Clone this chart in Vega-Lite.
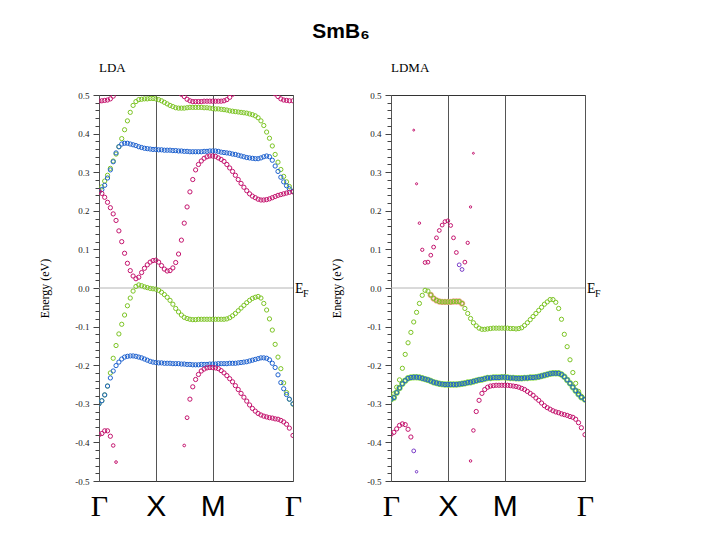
{
"$schema":"https://vega.github.io/schema/vega-lite/v6.json",
"background":"white",
"padding":{"left":38,"top":20,"right":0,"bottom":0},
"title":{"text":"SmB₆","font":"Liberation Sans","fontSize":21,"fontWeight":"bold","anchor":"middle","frame":"group","dx":242,"offset":20,"color":"#000"},
"config":{"view":{"stroke":"#333","strokeWidth":1},"font":"Liberation Serif","axis":{"labelOverlap":false}},
"bounds":"flush",
"spacing":98,
"datasets":{"pts":[
{"p":"LDA","c":"g","k":0,"e":0.25,"w":1},{"p":"LDA","c":"g","k":0.025,"e":0.262,"w":1},{"p":"LDA","c":"g","k":0.05,"e":0.277,"w":1},{"p":"LDA","c":"g","k":0.075,"e":0.292,"w":1},{"p":"LDA","c":"g","k":0.1,"e":0.31,"w":1},{"p":"LDA","c":"g","k":0.125,"e":0.329,"w":1},{"p":"LDA","c":"g","k":0.15,"e":0.347,"w":1},{"p":"LDA","c":"g","k":0.175,"e":0.366,"w":1},{"p":"LDA","c":"g","k":0.2,"e":0.387,"w":1},{"p":"LDA","c":"g","k":0.225,"e":0.41,"w":1},{"p":"LDA","c":"g","k":0.25,"e":0.433,"w":1},{"p":"LDA","c":"g","k":0.275,"e":0.455,"w":1},{"p":"LDA","c":"g","k":0.3,"e":0.473,"w":1},{"p":"LDA","c":"g","k":0.325,"e":0.483,"w":1},{"p":"LDA","c":"g","k":0.35,"e":0.488,"w":1},{"p":"LDA","c":"g","k":0.375,"e":0.489,"w":1},{"p":"LDA","c":"g","k":0.4,"e":0.49,"w":1},{"p":"LDA","c":"g","k":0.425,"e":0.49,"w":1},{"p":"LDA","c":"g","k":0.45,"e":0.491,"w":1},{"p":"LDA","c":"g","k":0.475,"e":0.491,"w":1},{"p":"LDA","c":"g","k":0.5,"e":0.49,"w":1},{"p":"LDA","c":"g","k":0.525,"e":0.488,"w":1},{"p":"LDA","c":"g","k":0.55,"e":0.485,"w":1},{"p":"LDA","c":"g","k":0.575,"e":0.481,"w":1},{"p":"LDA","c":"g","k":0.6,"e":0.477,"w":1},{"p":"LDA","c":"g","k":0.625,"e":0.473,"w":1},{"p":"LDA","c":"g","k":0.65,"e":0.47,"w":1},{"p":"LDA","c":"g","k":0.675,"e":0.467,"w":1},{"p":"LDA","c":"g","k":0.7,"e":0.466,"w":1},{"p":"LDA","c":"g","k":0.725,"e":0.466,"w":1},{"p":"LDA","c":"g","k":0.75,"e":0.466,"w":1},{"p":"LDA","c":"g","k":0.775,"e":0.467,"w":1},{"p":"LDA","c":"g","k":0.8,"e":0.468,"w":1},{"p":"LDA","c":"g","k":0.825,"e":0.468,"w":1},{"p":"LDA","c":"g","k":0.85,"e":0.468,"w":1},{"p":"LDA","c":"g","k":0.875,"e":0.468,"w":1},{"p":"LDA","c":"g","k":0.9,"e":0.468,"w":1},{"p":"LDA","c":"g","k":0.925,"e":0.467,"w":1},{"p":"LDA","c":"g","k":0.95,"e":0.467,"w":1},{"p":"LDA","c":"g","k":0.975,"e":0.466,"w":1},{"p":"LDA","c":"g","k":1.0,"e":0.465,"w":1},{"p":"LDA","c":"g","k":1.025,"e":0.464,"w":1},{"p":"LDA","c":"g","k":1.05,"e":0.464,"w":1},{"p":"LDA","c":"g","k":1.075,"e":0.463,"w":1},{"p":"LDA","c":"g","k":1.1,"e":0.462,"w":1},{"p":"LDA","c":"g","k":1.125,"e":0.461,"w":1},{"p":"LDA","c":"g","k":1.15,"e":0.459,"w":1},{"p":"LDA","c":"g","k":1.175,"e":0.458,"w":1},{"p":"LDA","c":"g","k":1.2,"e":0.457,"w":1},{"p":"LDA","c":"g","k":1.225,"e":0.456,"w":1},{"p":"LDA","c":"g","k":1.25,"e":0.455,"w":1},{"p":"LDA","c":"g","k":1.275,"e":0.454,"w":1},{"p":"LDA","c":"g","k":1.3,"e":0.453,"w":1},{"p":"LDA","c":"g","k":1.325,"e":0.451,"w":1},{"p":"LDA","c":"g","k":1.35,"e":0.449,"w":1},{"p":"LDA","c":"g","k":1.375,"e":0.446,"w":1},{"p":"LDA","c":"g","k":1.4,"e":0.441,"w":1},{"p":"LDA","c":"g","k":1.425,"e":0.433,"w":1},{"p":"LDA","c":"g","k":1.45,"e":0.421,"w":1},{"p":"LDA","c":"g","k":1.475,"e":0.404,"w":1},{"p":"LDA","c":"g","k":1.5,"e":0.388,"w":1},{"p":"LDA","c":"g","k":1.525,"e":0.368,"w":1},{"p":"LDA","c":"g","k":1.55,"e":0.346,"w":1},{"p":"LDA","c":"g","k":1.575,"e":0.326,"w":1},{"p":"LDA","c":"g","k":1.6,"e":0.307,"w":1},{"p":"LDA","c":"g","k":1.625,"e":0.289,"w":1},{"p":"LDA","c":"g","k":1.65,"e":0.275,"w":1},{"p":"LDA","c":"g","k":1.675,"e":0.263,"w":1},{"p":"LDA","c":"g","k":1.707,"e":0.251,"w":1},
{"p":"LDA","c":"b","k":0,"e":0.25,"w":1},{"p":"LDA","c":"b","k":0.025,"e":0.255,"w":1},{"p":"LDA","c":"b","k":0.05,"e":0.266,"w":1},{"p":"LDA","c":"b","k":0.075,"e":0.285,"w":1},{"p":"LDA","c":"b","k":0.1,"e":0.306,"w":1},{"p":"LDA","c":"b","k":0.125,"e":0.327,"w":1},{"p":"LDA","c":"b","k":0.15,"e":0.35,"w":1},{"p":"LDA","c":"b","k":0.175,"e":0.366,"w":1},{"p":"LDA","c":"b","k":0.2,"e":0.373,"w":1},{"p":"LDA","c":"b","k":0.225,"e":0.375,"w":1},{"p":"LDA","c":"b","k":0.25,"e":0.375,"w":1},{"p":"LDA","c":"b","k":0.275,"e":0.373,"w":1},{"p":"LDA","c":"b","k":0.3,"e":0.371,"w":1},{"p":"LDA","c":"b","k":0.325,"e":0.369,"w":1},{"p":"LDA","c":"b","k":0.35,"e":0.366,"w":1},{"p":"LDA","c":"b","k":0.375,"e":0.364,"w":1},{"p":"LDA","c":"b","k":0.4,"e":0.362,"w":1},{"p":"LDA","c":"b","k":0.425,"e":0.361,"w":1},{"p":"LDA","c":"b","k":0.45,"e":0.36,"w":1},{"p":"LDA","c":"b","k":0.475,"e":0.359,"w":1},{"p":"LDA","c":"b","k":0.5,"e":0.359,"w":1},{"p":"LDA","c":"b","k":0.525,"e":0.358,"w":1},{"p":"LDA","c":"b","k":0.55,"e":0.358,"w":1},{"p":"LDA","c":"b","k":0.575,"e":0.357,"w":1},{"p":"LDA","c":"b","k":0.6,"e":0.357,"w":1},{"p":"LDA","c":"b","k":0.625,"e":0.357,"w":1},{"p":"LDA","c":"b","k":0.65,"e":0.356,"w":1},{"p":"LDA","c":"b","k":0.675,"e":0.356,"w":1},{"p":"LDA","c":"b","k":0.7,"e":0.355,"w":1},{"p":"LDA","c":"b","k":0.725,"e":0.355,"w":1},{"p":"LDA","c":"b","k":0.75,"e":0.354,"w":1},{"p":"LDA","c":"b","k":0.775,"e":0.354,"w":1},{"p":"LDA","c":"b","k":0.8,"e":0.353,"w":1},{"p":"LDA","c":"b","k":0.825,"e":0.353,"w":1},{"p":"LDA","c":"b","k":0.85,"e":0.353,"w":1},{"p":"LDA","c":"b","k":0.875,"e":0.353,"w":1},{"p":"LDA","c":"b","k":0.9,"e":0.353,"w":1},{"p":"LDA","c":"b","k":0.925,"e":0.354,"w":1},{"p":"LDA","c":"b","k":0.95,"e":0.354,"w":1},{"p":"LDA","c":"b","k":0.975,"e":0.355,"w":1},{"p":"LDA","c":"b","k":1.0,"e":0.355,"w":1},{"p":"LDA","c":"b","k":1.025,"e":0.355,"w":1},{"p":"LDA","c":"b","k":1.05,"e":0.354,"w":1},{"p":"LDA","c":"b","k":1.075,"e":0.352,"w":1},{"p":"LDA","c":"b","k":1.1,"e":0.351,"w":1},{"p":"LDA","c":"b","k":1.125,"e":0.35,"w":1},{"p":"LDA","c":"b","k":1.15,"e":0.349,"w":1},{"p":"LDA","c":"b","k":1.175,"e":0.347,"w":1},{"p":"LDA","c":"b","k":1.2,"e":0.346,"w":1},{"p":"LDA","c":"b","k":1.225,"e":0.344,"w":1},{"p":"LDA","c":"b","k":1.25,"e":0.342,"w":1},{"p":"LDA","c":"b","k":1.275,"e":0.34,"w":1},{"p":"LDA","c":"b","k":1.3,"e":0.338,"w":1},{"p":"LDA","c":"b","k":1.325,"e":0.337,"w":1},{"p":"LDA","c":"b","k":1.35,"e":0.336,"w":1},{"p":"LDA","c":"b","k":1.375,"e":0.335,"w":1},{"p":"LDA","c":"b","k":1.4,"e":0.335,"w":1},{"p":"LDA","c":"b","k":1.425,"e":0.337,"w":1},{"p":"LDA","c":"b","k":1.45,"e":0.34,"w":1},{"p":"LDA","c":"b","k":1.475,"e":0.342,"w":1},{"p":"LDA","c":"b","k":1.5,"e":0.34,"w":1},{"p":"LDA","c":"b","k":1.525,"e":0.331,"w":1},{"p":"LDA","c":"b","k":1.55,"e":0.316,"w":1},{"p":"LDA","c":"b","k":1.575,"e":0.302,"w":1},{"p":"LDA","c":"b","k":1.6,"e":0.287,"w":1},{"p":"LDA","c":"b","k":1.625,"e":0.275,"w":1},{"p":"LDA","c":"b","k":1.65,"e":0.265,"w":1},{"p":"LDA","c":"b","k":1.675,"e":0.257,"w":1},{"p":"LDA","c":"b","k":1.707,"e":0.25,"w":1},
{"p":"LDA","c":"r","k":0,"e":0.25,"w":1},{"p":"LDA","c":"r","k":0.025,"e":0.245,"w":1},{"p":"LDA","c":"r","k":0.05,"e":0.235,"w":1},{"p":"LDA","c":"r","k":0.075,"e":0.222,"w":1},{"p":"LDA","c":"r","k":0.1,"e":0.208,"w":1},{"p":"LDA","c":"r","k":0.125,"e":0.192,"w":1},{"p":"LDA","c":"r","k":0.15,"e":0.175,"w":1},{"p":"LDA","c":"r","k":0.175,"e":0.148,"w":1},{"p":"LDA","c":"r","k":0.2,"e":0.12,"w":1},{"p":"LDA","c":"r","k":0.225,"e":0.09,"w":1},{"p":"LDA","c":"r","k":0.25,"e":0.064,"w":1},{"p":"LDA","c":"r","k":0.275,"e":0.045,"w":1},{"p":"LDA","c":"r","k":0.3,"e":0.031,"w":1},{"p":"LDA","c":"r","k":0.325,"e":0.024,"w":1},{"p":"LDA","c":"r","k":0.35,"e":0.028,"w":1},{"p":"LDA","c":"r","k":0.375,"e":0.04,"w":1},{"p":"LDA","c":"r","k":0.4,"e":0.051,"w":1},{"p":"LDA","c":"r","k":0.425,"e":0.06,"w":1},{"p":"LDA","c":"r","k":0.45,"e":0.067,"w":1},{"p":"LDA","c":"r","k":0.475,"e":0.071,"w":1},{"p":"LDA","c":"r","k":0.5,"e":0.072,"w":1},{"p":"LDA","c":"r","k":0.525,"e":0.067,"w":1},{"p":"LDA","c":"r","k":0.55,"e":0.058,"w":1},{"p":"LDA","c":"r","k":0.575,"e":0.049,"w":1},{"p":"LDA","c":"r","k":0.6,"e":0.044,"w":1},{"p":"LDA","c":"r","k":0.625,"e":0.045,"w":1},{"p":"LDA","c":"r","k":0.65,"e":0.052,"w":1},{"p":"LDA","c":"r","k":0.675,"e":0.066,"w":1},{"p":"LDA","c":"r","k":0.7,"e":0.088,"w":1},{"p":"LDA","c":"r","k":0.725,"e":0.124,"w":1},{"p":"LDA","c":"r","k":0.75,"e":0.168,"w":1},{"p":"LDA","c":"r","k":0.775,"e":0.21,"w":1},{"p":"LDA","c":"r","k":0.8,"e":0.249,"w":1},{"p":"LDA","c":"r","k":0.825,"e":0.281,"w":1},{"p":"LDA","c":"r","k":0.85,"e":0.306,"w":1},{"p":"LDA","c":"r","k":0.875,"e":0.32,"w":1},{"p":"LDA","c":"r","k":0.9,"e":0.329,"w":1},{"p":"LDA","c":"r","k":0.925,"e":0.336,"w":1},{"p":"LDA","c":"r","k":0.95,"e":0.34,"w":1},{"p":"LDA","c":"r","k":0.975,"e":0.342,"w":1},{"p":"LDA","c":"r","k":1.0,"e":0.342,"w":1},{"p":"LDA","c":"r","k":1.025,"e":0.341,"w":1},{"p":"LDA","c":"r","k":1.05,"e":0.337,"w":1},{"p":"LDA","c":"r","k":1.075,"e":0.333,"w":1},{"p":"LDA","c":"r","k":1.1,"e":0.328,"w":1},{"p":"LDA","c":"r","k":1.125,"e":0.32,"w":1},{"p":"LDA","c":"r","k":1.15,"e":0.311,"w":1},{"p":"LDA","c":"r","k":1.175,"e":0.302,"w":1},{"p":"LDA","c":"r","k":1.2,"e":0.292,"w":1},{"p":"LDA","c":"r","k":1.225,"e":0.281,"w":1},{"p":"LDA","c":"r","k":1.25,"e":0.271,"w":1},{"p":"LDA","c":"r","k":1.275,"e":0.261,"w":1},{"p":"LDA","c":"r","k":1.3,"e":0.252,"w":1},{"p":"LDA","c":"r","k":1.325,"e":0.244,"w":1},{"p":"LDA","c":"r","k":1.35,"e":0.238,"w":1},{"p":"LDA","c":"r","k":1.375,"e":0.234,"w":1},{"p":"LDA","c":"r","k":1.4,"e":0.23,"w":1},{"p":"LDA","c":"r","k":1.425,"e":0.228,"w":1},{"p":"LDA","c":"r","k":1.45,"e":0.228,"w":1},{"p":"LDA","c":"r","k":1.475,"e":0.229,"w":1},{"p":"LDA","c":"r","k":1.5,"e":0.231,"w":1},{"p":"LDA","c":"r","k":1.525,"e":0.234,"w":1},{"p":"LDA","c":"r","k":1.55,"e":0.237,"w":1},{"p":"LDA","c":"r","k":1.575,"e":0.24,"w":1},{"p":"LDA","c":"r","k":1.6,"e":0.242,"w":1},{"p":"LDA","c":"r","k":1.625,"e":0.244,"w":1},{"p":"LDA","c":"r","k":1.65,"e":0.246,"w":1},{"p":"LDA","c":"r","k":1.675,"e":0.248,"w":1},{"p":"LDA","c":"r","k":1.707,"e":0.249,"w":1},
{"p":"LDA","c":"r","k":0,"e":0.484,"w":1},{"p":"LDA","c":"r","k":0.025,"e":0.485,"w":1},{"p":"LDA","c":"r","k":0.05,"e":0.486,"w":1},{"p":"LDA","c":"r","k":0.075,"e":0.487,"w":1},{"p":"LDA","c":"r","k":0.1,"e":0.49,"w":1},{"p":"LDA","c":"r","k":0.125,"e":0.497,"w":1},{"p":"LDA","c":"r","k":0.725,"e":0.502,"w":1},{"p":"LDA","c":"r","k":0.75,"e":0.496,"w":1},{"p":"LDA","c":"r","k":0.775,"e":0.489,"w":1},{"p":"LDA","c":"r","k":0.8,"e":0.485,"w":1},{"p":"LDA","c":"r","k":0.825,"e":0.483,"w":1},{"p":"LDA","c":"r","k":0.85,"e":0.483,"w":1},{"p":"LDA","c":"r","k":0.875,"e":0.483,"w":1},{"p":"LDA","c":"r","k":0.9,"e":0.483,"w":1},{"p":"LDA","c":"r","k":0.925,"e":0.484,"w":1},{"p":"LDA","c":"r","k":0.95,"e":0.484,"w":1},{"p":"LDA","c":"r","k":0.975,"e":0.484,"w":1},{"p":"LDA","c":"r","k":1.0,"e":0.484,"w":1},{"p":"LDA","c":"r","k":1.025,"e":0.484,"w":1},{"p":"LDA","c":"r","k":1.05,"e":0.484,"w":1},{"p":"LDA","c":"r","k":1.075,"e":0.484,"w":1},{"p":"LDA","c":"r","k":1.1,"e":0.485,"w":1},{"p":"LDA","c":"r","k":1.125,"e":0.488,"w":1},{"p":"LDA","c":"r","k":1.15,"e":0.494,"w":1},{"p":"LDA","c":"r","k":1.175,"e":0.502,"w":1},{"p":"LDA","c":"r","k":1.55,"e":0.503,"w":1},{"p":"LDA","c":"r","k":1.575,"e":0.496,"w":1},{"p":"LDA","c":"r","k":1.6,"e":0.49,"w":1},{"p":"LDA","c":"r","k":1.625,"e":0.487,"w":1},{"p":"LDA","c":"r","k":1.65,"e":0.486,"w":1},{"p":"LDA","c":"r","k":1.675,"e":0.485,"w":1},{"p":"LDA","c":"r","k":1.707,"e":0.485,"w":1},
{"p":"LDA","c":"g","k":0,"e":-0.3,"w":1},{"p":"LDA","c":"g","k":0.025,"e":-0.292,"w":1},{"p":"LDA","c":"g","k":0.05,"e":-0.277,"w":1},{"p":"LDA","c":"g","k":0.075,"e":-0.254,"w":1},{"p":"LDA","c":"g","k":0.1,"e":-0.22,"w":1},{"p":"LDA","c":"g","k":0.125,"e":-0.182,"w":1},{"p":"LDA","c":"g","k":0.15,"e":-0.149,"w":1},{"p":"LDA","c":"g","k":0.175,"e":-0.119,"w":1},{"p":"LDA","c":"g","k":0.2,"e":-0.094,"w":1},{"p":"LDA","c":"g","k":0.225,"e":-0.07,"w":1},{"p":"LDA","c":"g","k":0.25,"e":-0.046,"w":1},{"p":"LDA","c":"g","k":0.275,"e":-0.026,"w":1},{"p":"LDA","c":"g","k":0.3,"e":-0.008,"w":1},{"p":"LDA","c":"g","k":0.325,"e":0.004,"w":1},{"p":"LDA","c":"g","k":0.35,"e":0.008,"w":1},{"p":"LDA","c":"g","k":0.375,"e":0.006,"w":1},{"p":"LDA","c":"g","k":0.4,"e":0.003,"w":1},{"p":"LDA","c":"g","k":0.425,"e":0.001,"w":1},{"p":"LDA","c":"g","k":0.45,"e":-0.001,"w":1},{"p":"LDA","c":"g","k":0.475,"e":-0.002,"w":1},{"p":"LDA","c":"g","k":0.5,"e":-0.003,"w":1},{"p":"LDA","c":"g","k":0.525,"e":-0.006,"w":1},{"p":"LDA","c":"g","k":0.55,"e":-0.011,"w":1},{"p":"LDA","c":"g","k":0.575,"e":-0.017,"w":1},{"p":"LDA","c":"g","k":0.6,"e":-0.024,"w":1},{"p":"LDA","c":"g","k":0.625,"e":-0.032,"w":1},{"p":"LDA","c":"g","k":0.65,"e":-0.042,"w":1},{"p":"LDA","c":"g","k":0.675,"e":-0.053,"w":1},{"p":"LDA","c":"g","k":0.7,"e":-0.062,"w":1},{"p":"LDA","c":"g","k":0.725,"e":-0.07,"w":1},{"p":"LDA","c":"g","k":0.75,"e":-0.076,"w":1},{"p":"LDA","c":"g","k":0.775,"e":-0.079,"w":1},{"p":"LDA","c":"g","k":0.8,"e":-0.081,"w":1},{"p":"LDA","c":"g","k":0.825,"e":-0.082,"w":1},{"p":"LDA","c":"g","k":0.85,"e":-0.082,"w":1},{"p":"LDA","c":"g","k":0.875,"e":-0.081,"w":1},{"p":"LDA","c":"g","k":0.9,"e":-0.081,"w":1},{"p":"LDA","c":"g","k":0.925,"e":-0.081,"w":1},{"p":"LDA","c":"g","k":0.95,"e":-0.081,"w":1},{"p":"LDA","c":"g","k":0.975,"e":-0.081,"w":1},{"p":"LDA","c":"g","k":1.0,"e":-0.081,"w":1},{"p":"LDA","c":"g","k":1.025,"e":-0.081,"w":1},{"p":"LDA","c":"g","k":1.05,"e":-0.081,"w":1},{"p":"LDA","c":"g","k":1.075,"e":-0.081,"w":1},{"p":"LDA","c":"g","k":1.1,"e":-0.081,"w":1},{"p":"LDA","c":"g","k":1.125,"e":-0.08,"w":1},{"p":"LDA","c":"g","k":1.15,"e":-0.077,"w":1},{"p":"LDA","c":"g","k":1.175,"e":-0.072,"w":1},{"p":"LDA","c":"g","k":1.2,"e":-0.066,"w":1},{"p":"LDA","c":"g","k":1.225,"e":-0.059,"w":1},{"p":"LDA","c":"g","k":1.25,"e":-0.052,"w":1},{"p":"LDA","c":"g","k":1.275,"e":-0.045,"w":1},{"p":"LDA","c":"g","k":1.3,"e":-0.038,"w":1},{"p":"LDA","c":"g","k":1.325,"e":-0.032,"w":1},{"p":"LDA","c":"g","k":1.35,"e":-0.027,"w":1},{"p":"LDA","c":"g","k":1.375,"e":-0.024,"w":1},{"p":"LDA","c":"g","k":1.4,"e":-0.022,"w":1},{"p":"LDA","c":"g","k":1.425,"e":-0.026,"w":1},{"p":"LDA","c":"g","k":1.45,"e":-0.04,"w":1},{"p":"LDA","c":"g","k":1.475,"e":-0.057,"w":1},{"p":"LDA","c":"g","k":1.5,"e":-0.08,"w":1},{"p":"LDA","c":"g","k":1.525,"e":-0.109,"w":1},{"p":"LDA","c":"g","k":1.55,"e":-0.146,"w":1},{"p":"LDA","c":"g","k":1.575,"e":-0.179,"w":1},{"p":"LDA","c":"g","k":1.6,"e":-0.209,"w":1},{"p":"LDA","c":"g","k":1.625,"e":-0.246,"w":1},{"p":"LDA","c":"g","k":1.65,"e":-0.271,"w":1},{"p":"LDA","c":"g","k":1.675,"e":-0.288,"w":1},{"p":"LDA","c":"g","k":1.707,"e":-0.301,"w":1},
{"p":"LDA","c":"b","k":0,"e":-0.3,"w":1},{"p":"LDA","c":"b","k":0.025,"e":-0.292,"w":1},{"p":"LDA","c":"b","k":0.05,"e":-0.277,"w":1},{"p":"LDA","c":"b","k":0.075,"e":-0.254,"w":1},{"p":"LDA","c":"b","k":0.1,"e":-0.233,"w":1},{"p":"LDA","c":"b","k":0.125,"e":-0.215,"w":1},{"p":"LDA","c":"b","k":0.15,"e":-0.201,"w":1},{"p":"LDA","c":"b","k":0.175,"e":-0.192,"w":1},{"p":"LDA","c":"b","k":0.2,"e":-0.184,"w":1},{"p":"LDA","c":"b","k":0.225,"e":-0.179,"w":1},{"p":"LDA","c":"b","k":0.25,"e":-0.177,"w":1},{"p":"LDA","c":"b","k":0.275,"e":-0.176,"w":1},{"p":"LDA","c":"b","k":0.3,"e":-0.176,"w":1},{"p":"LDA","c":"b","k":0.325,"e":-0.177,"w":1},{"p":"LDA","c":"b","k":0.35,"e":-0.179,"w":1},{"p":"LDA","c":"b","k":0.375,"e":-0.181,"w":1},{"p":"LDA","c":"b","k":0.4,"e":-0.184,"w":1},{"p":"LDA","c":"b","k":0.425,"e":-0.187,"w":1},{"p":"LDA","c":"b","k":0.45,"e":-0.19,"w":1},{"p":"LDA","c":"b","k":0.475,"e":-0.192,"w":1},{"p":"LDA","c":"b","k":0.5,"e":-0.193,"w":1},{"p":"LDA","c":"b","k":0.525,"e":-0.194,"w":1},{"p":"LDA","c":"b","k":0.55,"e":-0.194,"w":1},{"p":"LDA","c":"b","k":0.575,"e":-0.195,"w":1},{"p":"LDA","c":"b","k":0.6,"e":-0.195,"w":1},{"p":"LDA","c":"b","k":0.625,"e":-0.195,"w":1},{"p":"LDA","c":"b","k":0.65,"e":-0.196,"w":1},{"p":"LDA","c":"b","k":0.675,"e":-0.196,"w":1},{"p":"LDA","c":"b","k":0.7,"e":-0.196,"w":1},{"p":"LDA","c":"b","k":0.725,"e":-0.197,"w":1},{"p":"LDA","c":"b","k":0.75,"e":-0.197,"w":1},{"p":"LDA","c":"b","k":0.775,"e":-0.198,"w":1},{"p":"LDA","c":"b","k":0.8,"e":-0.198,"w":1},{"p":"LDA","c":"b","k":0.825,"e":-0.199,"w":1},{"p":"LDA","c":"b","k":0.85,"e":-0.199,"w":1},{"p":"LDA","c":"b","k":0.875,"e":-0.199,"w":1},{"p":"LDA","c":"b","k":0.9,"e":-0.198,"w":1},{"p":"LDA","c":"b","k":0.925,"e":-0.198,"w":1},{"p":"LDA","c":"b","k":0.95,"e":-0.198,"w":1},{"p":"LDA","c":"b","k":0.975,"e":-0.197,"w":1},{"p":"LDA","c":"b","k":1.0,"e":-0.197,"w":1},{"p":"LDA","c":"b","k":1.025,"e":-0.197,"w":1},{"p":"LDA","c":"b","k":1.05,"e":-0.196,"w":1},{"p":"LDA","c":"b","k":1.075,"e":-0.196,"w":1},{"p":"LDA","c":"b","k":1.1,"e":-0.196,"w":1},{"p":"LDA","c":"b","k":1.125,"e":-0.196,"w":1},{"p":"LDA","c":"b","k":1.15,"e":-0.195,"w":1},{"p":"LDA","c":"b","k":1.175,"e":-0.195,"w":1},{"p":"LDA","c":"b","k":1.2,"e":-0.195,"w":1},{"p":"LDA","c":"b","k":1.225,"e":-0.194,"w":1},{"p":"LDA","c":"b","k":1.25,"e":-0.193,"w":1},{"p":"LDA","c":"b","k":1.275,"e":-0.192,"w":1},{"p":"LDA","c":"b","k":1.3,"e":-0.191,"w":1},{"p":"LDA","c":"b","k":1.325,"e":-0.189,"w":1},{"p":"LDA","c":"b","k":1.35,"e":-0.187,"w":1},{"p":"LDA","c":"b","k":1.375,"e":-0.185,"w":1},{"p":"LDA","c":"b","k":1.4,"e":-0.183,"w":1},{"p":"LDA","c":"b","k":1.425,"e":-0.181,"w":1},{"p":"LDA","c":"b","k":1.45,"e":-0.181,"w":1},{"p":"LDA","c":"b","k":1.475,"e":-0.182,"w":1},{"p":"LDA","c":"b","k":1.5,"e":-0.186,"w":1},{"p":"LDA","c":"b","k":1.525,"e":-0.195,"w":1},{"p":"LDA","c":"b","k":1.55,"e":-0.206,"w":1},{"p":"LDA","c":"b","k":1.575,"e":-0.225,"w":1},{"p":"LDA","c":"b","k":1.6,"e":-0.245,"w":1},{"p":"LDA","c":"b","k":1.625,"e":-0.261,"w":1},{"p":"LDA","c":"b","k":1.65,"e":-0.276,"w":1},{"p":"LDA","c":"b","k":1.675,"e":-0.288,"w":1},{"p":"LDA","c":"b","k":1.707,"e":-0.3,"w":1},
{"p":"LDA","c":"r","k":0,"e":-0.38,"w":1},{"p":"LDA","c":"r","k":0.025,"e":-0.377,"w":1},{"p":"LDA","c":"r","k":0.05,"e":-0.37,"w":1},{"p":"LDA","c":"r","k":0.075,"e":-0.37,"w":1},{"p":"LDA","c":"r","k":0.1,"e":-0.384,"w":1},{"p":"LDA","c":"r","k":0.125,"e":-0.408,"w":0.7},{"p":"LDA","c":"r","k":0.15,"e":-0.451,"w":0.4},{"p":"LDA","c":"r","k":0.75,"e":-0.408,"w":0.4},{"p":"LDA","c":"r","k":0.775,"e":-0.336,"w":0.8},{"p":"LDA","c":"r","k":0.8,"e":-0.288,"w":1},{"p":"LDA","c":"r","k":0.825,"e":-0.256,"w":1},{"p":"LDA","c":"r","k":0.85,"e":-0.237,"w":1},{"p":"LDA","c":"r","k":0.875,"e":-0.224,"w":1},{"p":"LDA","c":"r","k":0.9,"e":-0.215,"w":1},{"p":"LDA","c":"r","k":0.925,"e":-0.21,"w":1},{"p":"LDA","c":"r","k":0.95,"e":-0.207,"w":1},{"p":"LDA","c":"r","k":0.975,"e":-0.206,"w":1},{"p":"LDA","c":"r","k":1.0,"e":-0.206,"w":1},{"p":"LDA","c":"r","k":1.025,"e":-0.207,"w":1},{"p":"LDA","c":"r","k":1.05,"e":-0.209,"w":1},{"p":"LDA","c":"r","k":1.075,"e":-0.214,"w":1},{"p":"LDA","c":"r","k":1.1,"e":-0.22,"w":1},{"p":"LDA","c":"r","k":1.125,"e":-0.227,"w":1},{"p":"LDA","c":"r","k":1.15,"e":-0.235,"w":1},{"p":"LDA","c":"r","k":1.175,"e":-0.243,"w":1},{"p":"LDA","c":"r","k":1.2,"e":-0.253,"w":1},{"p":"LDA","c":"r","k":1.225,"e":-0.263,"w":1},{"p":"LDA","c":"r","k":1.25,"e":-0.273,"w":1},{"p":"LDA","c":"r","k":1.275,"e":-0.283,"w":1},{"p":"LDA","c":"r","k":1.3,"e":-0.293,"w":1},{"p":"LDA","c":"r","k":1.325,"e":-0.303,"w":1},{"p":"LDA","c":"r","k":1.35,"e":-0.312,"w":1},{"p":"LDA","c":"r","k":1.375,"e":-0.319,"w":1},{"p":"LDA","c":"r","k":1.4,"e":-0.325,"w":1},{"p":"LDA","c":"r","k":1.425,"e":-0.329,"w":1},{"p":"LDA","c":"r","k":1.45,"e":-0.332,"w":1},{"p":"LDA","c":"r","k":1.475,"e":-0.334,"w":1},{"p":"LDA","c":"r","k":1.5,"e":-0.336,"w":1},{"p":"LDA","c":"r","k":1.525,"e":-0.337,"w":1},{"p":"LDA","c":"r","k":1.55,"e":-0.339,"w":1},{"p":"LDA","c":"r","k":1.575,"e":-0.34,"w":1},{"p":"LDA","c":"r","k":1.6,"e":-0.343,"w":1},{"p":"LDA","c":"r","k":1.625,"e":-0.347,"w":1},{"p":"LDA","c":"r","k":1.65,"e":-0.353,"w":1},{"p":"LDA","c":"r","k":1.675,"e":-0.363,"w":1},{"p":"LDA","c":"r","k":1.707,"e":-0.382,"w":1},
{"p":"LDMA","c":"r","k":0.2,"e":0.409,"w":0.2},{"p":"LDMA","c":"r","k":0.225,"e":0.27,"w":0.25},{"p":"LDMA","c":"r","k":0.25,"e":0.168,"w":0.35},{"p":"LDMA","c":"r","k":0.275,"e":0.099,"w":0.6},{"p":"LDMA","c":"r","k":0.3,"e":0.066,"w":0.8},{"p":"LDMA","c":"r","k":0.325,"e":0.067,"w":0.8},{"p":"LDMA","c":"r","k":0.35,"e":0.085,"w":0.8},{"p":"LDMA","c":"r","k":0.375,"e":0.106,"w":0.8},{"p":"LDMA","c":"r","k":0.4,"e":0.13,"w":0.8},{"p":"LDMA","c":"r","k":0.425,"e":0.149,"w":0.8},{"p":"LDMA","c":"r","k":0.45,"e":0.163,"w":0.8},{"p":"LDMA","c":"r","k":0.475,"e":0.172,"w":0.8},{"p":"LDMA","c":"r","k":0.5,"e":0.174,"w":0.8},{"p":"LDMA","c":"r","k":0.525,"e":0.162,"w":0.8},{"p":"LDMA","c":"r","k":0.55,"e":0.13,"w":0.8},{"p":"LDMA","c":"r","k":0.575,"e":0.092,"w":0.8},{"p":"LDMA","c":"p","k":0.6,"e":0.06,"w":0.8},{"p":"LDMA","c":"p","k":0.625,"e":0.048,"w":0.8},{"p":"LDMA","c":"r","k":0.65,"e":0.067,"w":0.8},{"p":"LDMA","c":"r","k":0.675,"e":0.117,"w":0.6},{"p":"LDMA","c":"r","k":0.7,"e":0.21,"w":0.3},{"p":"LDMA","c":"r","k":0.725,"e":0.349,"w":0.2},
{"p":"LDMA","c":"rw","k":0.35,"e":-0.018,"w":1},{"p":"LDMA","c":"rw","k":0.375,"e":-0.027,"w":1},{"p":"LDMA","c":"rw","k":0.4,"e":-0.032,"w":1},{"p":"LDMA","c":"rw","k":0.425,"e":-0.035,"w":1},{"p":"LDMA","c":"rw","k":0.45,"e":-0.036,"w":1},{"p":"LDMA","c":"rw","k":0.475,"e":-0.036,"w":1},{"p":"LDMA","c":"rw","k":0.5,"e":-0.036,"w":1},{"p":"LDMA","c":"rw","k":0.525,"e":-0.036,"w":1},{"p":"LDMA","c":"rw","k":0.55,"e":-0.035,"w":1},{"p":"LDMA","c":"rw","k":0.575,"e":-0.035,"w":1},{"p":"LDMA","c":"rw","k":0.6,"e":-0.035,"w":1},{"p":"LDMA","c":"rw","k":0.625,"e":-0.04,"w":1},
{"p":"LDMA","c":"g","k":0,"e":-0.288,"w":1},{"p":"LDMA","c":"g","k":0.025,"e":-0.274,"w":1},{"p":"LDMA","c":"g","k":0.05,"e":-0.257,"w":1},{"p":"LDMA","c":"g","k":0.075,"e":-0.238,"w":1},{"p":"LDMA","c":"g","k":0.1,"e":-0.208,"w":1},{"p":"LDMA","c":"g","k":0.125,"e":-0.172,"w":1},{"p":"LDMA","c":"g","k":0.15,"e":-0.142,"w":1},{"p":"LDMA","c":"g","k":0.175,"e":-0.115,"w":1},{"p":"LDMA","c":"g","k":0.2,"e":-0.088,"w":1},{"p":"LDMA","c":"g","k":0.225,"e":-0.063,"w":1},{"p":"LDMA","c":"g","k":0.25,"e":-0.04,"w":1},{"p":"LDMA","c":"g","k":0.275,"e":-0.019,"w":1},{"p":"LDMA","c":"g","k":0.3,"e":-0.006,"w":1},{"p":"LDMA","c":"g","k":0.325,"e":-0.008,"w":1},{"p":"LDMA","c":"g","k":0.35,"e":-0.018,"w":1},{"p":"LDMA","c":"g","k":0.375,"e":-0.027,"w":1},{"p":"LDMA","c":"g","k":0.4,"e":-0.032,"w":1},{"p":"LDMA","c":"g","k":0.425,"e":-0.035,"w":1},{"p":"LDMA","c":"g","k":0.45,"e":-0.036,"w":1},{"p":"LDMA","c":"g","k":0.475,"e":-0.036,"w":1},{"p":"LDMA","c":"g","k":0.5,"e":-0.036,"w":1},{"p":"LDMA","c":"g","k":0.525,"e":-0.036,"w":1},{"p":"LDMA","c":"g","k":0.55,"e":-0.035,"w":1},{"p":"LDMA","c":"g","k":0.575,"e":-0.035,"w":1},{"p":"LDMA","c":"g","k":0.6,"e":-0.035,"w":1},{"p":"LDMA","c":"g","k":0.625,"e":-0.04,"w":1},{"p":"LDMA","c":"g","k":0.65,"e":-0.053,"w":1},{"p":"LDMA","c":"g","k":0.675,"e":-0.066,"w":1},{"p":"LDMA","c":"g","k":0.7,"e":-0.079,"w":1},{"p":"LDMA","c":"g","k":0.725,"e":-0.09,"w":1},{"p":"LDMA","c":"g","k":0.75,"e":-0.098,"w":1},{"p":"LDMA","c":"g","k":0.775,"e":-0.104,"w":1},{"p":"LDMA","c":"g","k":0.8,"e":-0.107,"w":1},{"p":"LDMA","c":"g","k":0.825,"e":-0.107,"w":1},{"p":"LDMA","c":"g","k":0.85,"e":-0.106,"w":1},{"p":"LDMA","c":"g","k":0.875,"e":-0.105,"w":1},{"p":"LDMA","c":"g","k":0.9,"e":-0.104,"w":1},{"p":"LDMA","c":"g","k":0.925,"e":-0.104,"w":1},{"p":"LDMA","c":"g","k":0.95,"e":-0.104,"w":1},{"p":"LDMA","c":"g","k":0.975,"e":-0.104,"w":1},{"p":"LDMA","c":"g","k":1.0,"e":-0.104,"w":1},{"p":"LDMA","c":"g","k":1.025,"e":-0.104,"w":1},{"p":"LDMA","c":"g","k":1.05,"e":-0.105,"w":1},{"p":"LDMA","c":"g","k":1.075,"e":-0.105,"w":1},{"p":"LDMA","c":"g","k":1.1,"e":-0.106,"w":1},{"p":"LDMA","c":"g","k":1.125,"e":-0.105,"w":1},{"p":"LDMA","c":"g","k":1.15,"e":-0.103,"w":1},{"p":"LDMA","c":"g","k":1.175,"e":-0.097,"w":1},{"p":"LDMA","c":"g","k":1.2,"e":-0.09,"w":1},{"p":"LDMA","c":"g","k":1.225,"e":-0.082,"w":1},{"p":"LDMA","c":"g","k":1.25,"e":-0.074,"w":1},{"p":"LDMA","c":"g","k":1.275,"e":-0.066,"w":1},{"p":"LDMA","c":"g","k":1.3,"e":-0.058,"w":1},{"p":"LDMA","c":"g","k":1.325,"e":-0.05,"w":1},{"p":"LDMA","c":"g","k":1.35,"e":-0.042,"w":1},{"p":"LDMA","c":"g","k":1.375,"e":-0.036,"w":1},{"p":"LDMA","c":"g","k":1.4,"e":-0.03,"w":1},{"p":"LDMA","c":"g","k":1.425,"e":-0.03,"w":1},{"p":"LDMA","c":"g","k":1.45,"e":-0.037,"w":1},{"p":"LDMA","c":"g","k":1.475,"e":-0.053,"w":1},{"p":"LDMA","c":"g","k":1.5,"e":-0.081,"w":1},{"p":"LDMA","c":"g","k":1.525,"e":-0.12,"w":1},{"p":"LDMA","c":"g","k":1.55,"e":-0.152,"w":1},{"p":"LDMA","c":"g","k":1.575,"e":-0.186,"w":1},{"p":"LDMA","c":"g","k":1.6,"e":-0.219,"w":1},{"p":"LDMA","c":"g","k":1.625,"e":-0.247,"w":1},{"p":"LDMA","c":"g","k":1.65,"e":-0.268,"w":1},{"p":"LDMA","c":"g","k":1.675,"e":-0.281,"w":1},{"p":"LDMA","c":"g","k":1.707,"e":-0.289,"w":1},
{"p":"LDMA","c":"gw","k":0,"e":-0.288,"w":1},{"p":"LDMA","c":"gw","k":0.025,"e":-0.284,"w":1},{"p":"LDMA","c":"gw","k":0.05,"e":-0.271,"w":1},{"p":"LDMA","c":"gw","k":0.075,"e":-0.259,"w":1},{"p":"LDMA","c":"gw","k":0.1,"e":-0.248,"w":1},{"p":"LDMA","c":"gw","k":0.125,"e":-0.24,"w":1},{"p":"LDMA","c":"gw","k":0.15,"e":-0.234,"w":1},{"p":"LDMA","c":"gw","k":0.175,"e":-0.232,"w":1},{"p":"LDMA","c":"gw","k":0.2,"e":-0.231,"w":1},{"p":"LDMA","c":"gw","k":0.225,"e":-0.231,"w":1},{"p":"LDMA","c":"gw","k":0.25,"e":-0.232,"w":1},{"p":"LDMA","c":"gw","k":0.275,"e":-0.234,"w":1},{"p":"LDMA","c":"gw","k":0.3,"e":-0.236,"w":1},{"p":"LDMA","c":"gw","k":0.325,"e":-0.238,"w":1},{"p":"LDMA","c":"gw","k":0.35,"e":-0.241,"w":1},{"p":"LDMA","c":"gw","k":0.375,"e":-0.244,"w":1},{"p":"LDMA","c":"gw","k":0.4,"e":-0.246,"w":1},{"p":"LDMA","c":"gw","k":0.425,"e":-0.248,"w":1},{"p":"LDMA","c":"gw","k":0.45,"e":-0.249,"w":1},{"p":"LDMA","c":"gw","k":0.475,"e":-0.25,"w":1},{"p":"LDMA","c":"gw","k":0.5,"e":-0.25,"w":1},{"p":"LDMA","c":"gw","k":0.525,"e":-0.25,"w":1},{"p":"LDMA","c":"gw","k":0.55,"e":-0.25,"w":1},{"p":"LDMA","c":"gw","k":0.575,"e":-0.25,"w":1},{"p":"LDMA","c":"gw","k":0.6,"e":-0.249,"w":1},{"p":"LDMA","c":"gw","k":0.625,"e":-0.248,"w":1},{"p":"LDMA","c":"gw","k":0.65,"e":-0.247,"w":1},{"p":"LDMA","c":"gw","k":0.675,"e":-0.245,"w":1},{"p":"LDMA","c":"gw","k":0.7,"e":-0.244,"w":1},{"p":"LDMA","c":"gw","k":0.725,"e":-0.242,"w":1},{"p":"LDMA","c":"gw","k":0.75,"e":-0.24,"w":1},{"p":"LDMA","c":"gw","k":0.775,"e":-0.238,"w":1},{"p":"LDMA","c":"gw","k":0.8,"e":-0.237,"w":1},{"p":"LDMA","c":"gw","k":0.825,"e":-0.235,"w":1},{"p":"LDMA","c":"gw","k":0.85,"e":-0.233,"w":1},{"p":"LDMA","c":"gw","k":0.875,"e":-0.233,"w":1},{"p":"LDMA","c":"gw","k":0.9,"e":-0.232,"w":1},{"p":"LDMA","c":"gw","k":0.925,"e":-0.232,"w":1},{"p":"LDMA","c":"gw","k":0.95,"e":-0.232,"w":1},{"p":"LDMA","c":"gw","k":0.975,"e":-0.231,"w":1},{"p":"LDMA","c":"gw","k":1.0,"e":-0.231,"w":1},{"p":"LDMA","c":"gw","k":1.025,"e":-0.232,"w":1},{"p":"LDMA","c":"gw","k":1.05,"e":-0.233,"w":1},{"p":"LDMA","c":"gw","k":1.075,"e":-0.233,"w":1},{"p":"LDMA","c":"gw","k":1.1,"e":-0.234,"w":1},{"p":"LDMA","c":"gw","k":1.125,"e":-0.234,"w":1},{"p":"LDMA","c":"gw","k":1.15,"e":-0.234,"w":1},{"p":"LDMA","c":"gw","k":1.175,"e":-0.233,"w":1},{"p":"LDMA","c":"gw","k":1.2,"e":-0.233,"w":1},{"p":"LDMA","c":"gw","k":1.225,"e":-0.232,"w":1},{"p":"LDMA","c":"gw","k":1.25,"e":-0.232,"w":1},{"p":"LDMA","c":"gw","k":1.275,"e":-0.231,"w":1},{"p":"LDMA","c":"gw","k":1.3,"e":-0.23,"w":1},{"p":"LDMA","c":"gw","k":1.325,"e":-0.228,"w":1},{"p":"LDMA","c":"gw","k":1.35,"e":-0.226,"w":1},{"p":"LDMA","c":"gw","k":1.375,"e":-0.224,"w":1},{"p":"LDMA","c":"gw","k":1.4,"e":-0.222,"w":1},{"p":"LDMA","c":"gw","k":1.425,"e":-0.221,"w":1},{"p":"LDMA","c":"gw","k":1.45,"e":-0.221,"w":1},{"p":"LDMA","c":"gw","k":1.475,"e":-0.221,"w":1},{"p":"LDMA","c":"gw","k":1.5,"e":-0.224,"w":1},{"p":"LDMA","c":"gw","k":1.525,"e":-0.23,"w":1},{"p":"LDMA","c":"gw","k":1.55,"e":-0.238,"w":1},{"p":"LDMA","c":"gw","k":1.575,"e":-0.247,"w":1},{"p":"LDMA","c":"gw","k":1.6,"e":-0.257,"w":1},{"p":"LDMA","c":"gw","k":1.625,"e":-0.266,"w":1},{"p":"LDMA","c":"gw","k":1.65,"e":-0.275,"w":1},{"p":"LDMA","c":"gw","k":1.675,"e":-0.283,"w":1},{"p":"LDMA","c":"gw","k":1.707,"e":-0.289,"w":1},
{"p":"LDMA","c":"b","k":0,"e":-0.288,"w":1},{"p":"LDMA","c":"b","k":0.025,"e":-0.284,"w":1},{"p":"LDMA","c":"b","k":0.05,"e":-0.271,"w":1},{"p":"LDMA","c":"b","k":0.075,"e":-0.259,"w":1},{"p":"LDMA","c":"b","k":0.1,"e":-0.248,"w":1},{"p":"LDMA","c":"b","k":0.125,"e":-0.24,"w":1},{"p":"LDMA","c":"b","k":0.15,"e":-0.234,"w":1},{"p":"LDMA","c":"b","k":0.175,"e":-0.232,"w":1},{"p":"LDMA","c":"b","k":0.2,"e":-0.231,"w":1},{"p":"LDMA","c":"b","k":0.225,"e":-0.231,"w":1},{"p":"LDMA","c":"b","k":0.25,"e":-0.232,"w":1},{"p":"LDMA","c":"b","k":0.275,"e":-0.234,"w":1},{"p":"LDMA","c":"b","k":0.3,"e":-0.236,"w":1},{"p":"LDMA","c":"b","k":0.325,"e":-0.238,"w":1},{"p":"LDMA","c":"b","k":0.35,"e":-0.241,"w":1},{"p":"LDMA","c":"b","k":0.375,"e":-0.244,"w":1},{"p":"LDMA","c":"b","k":0.4,"e":-0.246,"w":1},{"p":"LDMA","c":"b","k":0.425,"e":-0.248,"w":1},{"p":"LDMA","c":"b","k":0.45,"e":-0.249,"w":1},{"p":"LDMA","c":"b","k":0.475,"e":-0.25,"w":1},{"p":"LDMA","c":"b","k":0.5,"e":-0.25,"w":1},{"p":"LDMA","c":"b","k":0.525,"e":-0.25,"w":1},{"p":"LDMA","c":"b","k":0.55,"e":-0.25,"w":1},{"p":"LDMA","c":"b","k":0.575,"e":-0.25,"w":1},{"p":"LDMA","c":"b","k":0.6,"e":-0.249,"w":1},{"p":"LDMA","c":"b","k":0.625,"e":-0.248,"w":1},{"p":"LDMA","c":"b","k":0.65,"e":-0.247,"w":1},{"p":"LDMA","c":"b","k":0.675,"e":-0.245,"w":1},{"p":"LDMA","c":"b","k":0.7,"e":-0.244,"w":1},{"p":"LDMA","c":"b","k":0.725,"e":-0.242,"w":1},{"p":"LDMA","c":"b","k":0.75,"e":-0.24,"w":1},{"p":"LDMA","c":"b","k":0.775,"e":-0.238,"w":1},{"p":"LDMA","c":"b","k":0.8,"e":-0.237,"w":1},{"p":"LDMA","c":"b","k":0.825,"e":-0.235,"w":1},{"p":"LDMA","c":"b","k":0.85,"e":-0.233,"w":1},{"p":"LDMA","c":"b","k":0.875,"e":-0.233,"w":1},{"p":"LDMA","c":"b","k":0.9,"e":-0.232,"w":1},{"p":"LDMA","c":"b","k":0.925,"e":-0.232,"w":1},{"p":"LDMA","c":"b","k":0.95,"e":-0.232,"w":1},{"p":"LDMA","c":"b","k":0.975,"e":-0.231,"w":1},{"p":"LDMA","c":"b","k":1.0,"e":-0.231,"w":1},{"p":"LDMA","c":"b","k":1.025,"e":-0.232,"w":1},{"p":"LDMA","c":"b","k":1.05,"e":-0.233,"w":1},{"p":"LDMA","c":"b","k":1.075,"e":-0.233,"w":1},{"p":"LDMA","c":"b","k":1.1,"e":-0.234,"w":1},{"p":"LDMA","c":"b","k":1.125,"e":-0.234,"w":1},{"p":"LDMA","c":"b","k":1.15,"e":-0.234,"w":1},{"p":"LDMA","c":"b","k":1.175,"e":-0.233,"w":1},{"p":"LDMA","c":"b","k":1.2,"e":-0.233,"w":1},{"p":"LDMA","c":"b","k":1.225,"e":-0.232,"w":1},{"p":"LDMA","c":"b","k":1.25,"e":-0.232,"w":1},{"p":"LDMA","c":"b","k":1.275,"e":-0.231,"w":1},{"p":"LDMA","c":"b","k":1.3,"e":-0.23,"w":1},{"p":"LDMA","c":"b","k":1.325,"e":-0.228,"w":1},{"p":"LDMA","c":"b","k":1.35,"e":-0.226,"w":1},{"p":"LDMA","c":"b","k":1.375,"e":-0.224,"w":1},{"p":"LDMA","c":"b","k":1.4,"e":-0.222,"w":1},{"p":"LDMA","c":"b","k":1.425,"e":-0.221,"w":1},{"p":"LDMA","c":"b","k":1.45,"e":-0.221,"w":1},{"p":"LDMA","c":"b","k":1.475,"e":-0.221,"w":1},{"p":"LDMA","c":"b","k":1.5,"e":-0.224,"w":1},{"p":"LDMA","c":"b","k":1.525,"e":-0.23,"w":1},{"p":"LDMA","c":"b","k":1.55,"e":-0.238,"w":1},{"p":"LDMA","c":"b","k":1.575,"e":-0.247,"w":1},{"p":"LDMA","c":"b","k":1.6,"e":-0.257,"w":1},{"p":"LDMA","c":"b","k":1.625,"e":-0.266,"w":1},{"p":"LDMA","c":"b","k":1.65,"e":-0.275,"w":1},{"p":"LDMA","c":"b","k":1.675,"e":-0.283,"w":1},{"p":"LDMA","c":"b","k":1.707,"e":-0.289,"w":1},
{"p":"LDMA","c":"r","k":0,"e":-0.379,"w":1},{"p":"LDMA","c":"r","k":0.025,"e":-0.374,"w":1},{"p":"LDMA","c":"r","k":0.05,"e":-0.365,"w":1},{"p":"LDMA","c":"r","k":0.075,"e":-0.356,"w":1},{"p":"LDMA","c":"r","k":0.1,"e":-0.352,"w":1},{"p":"LDMA","c":"r","k":0.125,"e":-0.354,"w":1},{"p":"LDMA","c":"r","k":0.15,"e":-0.366,"w":1},{"p":"LDMA","c":"r","k":0.175,"e":-0.386,"w":1},{"p":"LDMA","c":"p","k":0.2,"e":-0.422,"w":0.8},{"p":"LDMA","c":"p","k":0.225,"e":-0.476,"w":0.35},{"p":"LDMA","c":"r","k":0.7,"e":-0.448,"w":0.35},{"p":"LDMA","c":"r","k":0.725,"e":-0.369,"w":0.7},{"p":"LDMA","c":"r","k":0.75,"e":-0.32,"w":1},{"p":"LDMA","c":"r","k":0.775,"e":-0.291,"w":1},{"p":"LDMA","c":"r","k":0.8,"e":-0.273,"w":1},{"p":"LDMA","c":"r","k":0.825,"e":-0.263,"w":1},{"p":"LDMA","c":"r","k":0.85,"e":-0.257,"w":1},{"p":"LDMA","c":"r","k":0.875,"e":-0.254,"w":1},{"p":"LDMA","c":"r","k":0.9,"e":-0.253,"w":1},{"p":"LDMA","c":"r","k":0.925,"e":-0.252,"w":1},{"p":"LDMA","c":"r","k":0.95,"e":-0.252,"w":1},{"p":"LDMA","c":"r","k":0.975,"e":-0.252,"w":1},{"p":"LDMA","c":"r","k":1.0,"e":-0.252,"w":1},{"p":"LDMA","c":"r","k":1.025,"e":-0.252,"w":1},{"p":"LDMA","c":"r","k":1.05,"e":-0.253,"w":1},{"p":"LDMA","c":"r","k":1.075,"e":-0.254,"w":1},{"p":"LDMA","c":"r","k":1.1,"e":-0.255,"w":1},{"p":"LDMA","c":"r","k":1.125,"e":-0.257,"w":1},{"p":"LDMA","c":"r","k":1.15,"e":-0.26,"w":1},{"p":"LDMA","c":"r","k":1.175,"e":-0.263,"w":1},{"p":"LDMA","c":"r","k":1.2,"e":-0.268,"w":1},{"p":"LDMA","c":"r","k":1.225,"e":-0.273,"w":1},{"p":"LDMA","c":"r","k":1.25,"e":-0.278,"w":1},{"p":"LDMA","c":"r","k":1.275,"e":-0.285,"w":1},{"p":"LDMA","c":"r","k":1.3,"e":-0.291,"w":1},{"p":"LDMA","c":"r","k":1.325,"e":-0.298,"w":1},{"p":"LDMA","c":"r","k":1.35,"e":-0.305,"w":1},{"p":"LDMA","c":"r","k":1.375,"e":-0.31,"w":1},{"p":"LDMA","c":"r","k":1.4,"e":-0.314,"w":1},{"p":"LDMA","c":"r","k":1.425,"e":-0.318,"w":1},{"p":"LDMA","c":"r","k":1.45,"e":-0.321,"w":1},{"p":"LDMA","c":"r","k":1.475,"e":-0.323,"w":1},{"p":"LDMA","c":"r","k":1.5,"e":-0.326,"w":1},{"p":"LDMA","c":"r","k":1.525,"e":-0.328,"w":1},{"p":"LDMA","c":"r","k":1.55,"e":-0.33,"w":1},{"p":"LDMA","c":"r","k":1.575,"e":-0.333,"w":1},{"p":"LDMA","c":"r","k":1.6,"e":-0.335,"w":1},{"p":"LDMA","c":"r","k":1.625,"e":-0.34,"w":1},{"p":"LDMA","c":"r","k":1.65,"e":-0.349,"w":1},{"p":"LDMA","c":"r","k":1.675,"e":-0.362,"w":1},{"p":"LDMA","c":"r","k":1.707,"e":-0.38,"w":1}
]},
"hconcat":[
{"width":194,"height":386,
 "title":{"text":"LDA","anchor":"start","frame":"group","font":"Liberation Serif","fontSize":13,"fontWeight":"normal","offset":16,"color":"#000"},
 "resolve":{"axis":{"y":"independent"}},
 "layer":[
  {"data":{"values":[{"e":0}]},"mark":{"type":"rule","color":"#b4b4b4","strokeWidth":1},
   "encoding":{"y":{"field":"e","type":"quantitative","title":"Energy (eV)","scale":{"domain":[-0.5,0.5],"nice":false,"zero":false},
     "axis":{"orient":"left","values":[-0.5,-0.4,-0.3,-0.2,-0.1,0,0.1,0.2,0.3,0.4,0.5],
      "labelExpr":"(datum.value < -0.001 ? '-' : '') + format(abs(datum.value), '.1f')",
      "tickSize":6,"tickColor":"#444","domain":false,"grid":false,"labelFont":"Liberation Serif","labelFontSize":9,"labelColor":"#222","labelPadding":4,"labelOverlap":false,"labelFlush":false,"labelBound":false,
      "titleFont":"Liberation Serif","titleFontSize":12,"titleFontWeight":"normal","titleColor":"#000","titlePadding":23}}}},
  {"data":{"name":"pts"},"transform":[{"filter":"datum.p == 'LDA' && (datum.c == 'gw' || datum.c == 'rw')"}],
   "mark":{"type":"point","filled":false,"clip":true,"strokeWidth":2.2,"opacity":1},
   "encoding":{"x":{"field":"k","type":"quantitative","title":null},"y":{"field":"e","type":"quantitative","axis":null},
    "color":{"field":"c","type":"nominal","scale":{"domain":["r","g","b","p","gw","rw"],"range":["#c4146e","#7cc424","#1f62cf","#7a3cc8","#94e04a","#f4a898"]},"legend":null},
    "size":{"field":"w","type":"quantitative","scale":{"domain":[0,1],"range":[0,18]},"legend":null}}},
  {"data":{"name":"pts"},"transform":[{"filter":"datum.p == 'LDA' && datum.c != 'gw' && datum.c != 'rw'"}],
   "mark":{"type":"point","filled":false,"clip":true,"strokeWidth":1,"opacity":1},
   "encoding":{
    "x":{"field":"k","type":"quantitative","title":null,"scale":{"domain":[0,1.707],"nice":false,"zero":false},
     "axis":{"values":[0,0.5,1,1.707],"labelExpr":"datum.value < 0.1 ? 'Γ' : datum.value < 0.7 ? 'X' : datum.value < 1.2 ? 'M' : 'Γ'","labelFontSize":30,"labelFont":{"condition":{"test":"datum.value < 0.1 || datum.value > 1.5","value":"Liberation Serif"},"value":"Liberation Sans"},"labelColor":"#000","labelPadding":10,"ticks":false,"domain":false,"grid":true,"gridColor":"#555","gridWidth":1,"gridOpacity":1,"labelFlush":false,"labelOverlap":false}},
    "y":{"field":"e","type":"quantitative",
     "axis":{"orient":"left","title":null,"labels":false,"values":[-0.48,-0.46,-0.44,-0.42,-0.38,-0.36,-0.34,-0.32,-0.28,-0.26,-0.24,-0.22,-0.18,-0.16,-0.14,-0.12,-0.08,-0.06,-0.04,-0.02,0.02,0.04,0.06,0.08,0.12,0.14,0.16,0.18,0.22,0.24,0.26,0.28,0.32,0.34,0.36,0.38,0.42,0.44,0.46,0.48],
      "tickSize":4,"tickColor":"#444","domain":false,"grid":false}},
    "color":{"field":"c","type":"nominal","scale":{"domain":["r","g","b","p","gw","rw"],"range":["#c4146e","#7cc424","#1f62cf","#7a3cc8","#94e04a","#f4a898"]},"legend":null},
    "size":{"field":"w","type":"quantitative","scale":{"domain":[0,1],"range":[0,18]},"legend":null}}},
  {"data":{"values":[{"k":1.707,"e":0}]},"mark":{"type":"text","text":"E","align":"left","baseline":"middle","dx":2,"dy":1,"fontSize":14,"font":"Liberation Serif","color":"#000"},
   "encoding":{"x":{"field":"k","type":"quantitative","title":null},"y":{"field":"e","type":"quantitative","axis":null}}},
  {"data":{"values":[{"k":1.707,"e":0}]},"mark":{"type":"text","text":"F","align":"left","baseline":"middle","dx":10,"dy":6,"fontSize":10,"font":"Liberation Serif","color":"#000"},
   "encoding":{"x":{"field":"k","type":"quantitative","title":null},"y":{"field":"e","type":"quantitative","axis":null}}}
 ]},
{"width":194,"height":386,
 "title":{"text":"LDMA","anchor":"start","frame":"group","font":"Liberation Serif","fontSize":13,"fontWeight":"normal","offset":16,"color":"#000"},
 "resolve":{"axis":{"y":"independent"}},
 "layer":[
  {"data":{"values":[{"e":0}]},"mark":{"type":"rule","color":"#b4b4b4","strokeWidth":1},
   "encoding":{"y":{"field":"e","type":"quantitative","title":"Energy (eV)","scale":{"domain":[-0.5,0.5],"nice":false,"zero":false},
     "axis":{"orient":"left","values":[-0.5,-0.4,-0.3,-0.2,-0.1,0,0.1,0.2,0.3,0.4,0.5],
      "labelExpr":"(datum.value < -0.001 ? '-' : '') + format(abs(datum.value), '.1f')",
      "tickSize":6,"tickColor":"#444","domain":false,"grid":false,"labelFont":"Liberation Serif","labelFontSize":9,"labelColor":"#222","labelPadding":4,"labelOverlap":false,"labelFlush":false,"labelBound":false,
      "titleFont":"Liberation Serif","titleFontSize":12,"titleFontWeight":"normal","titleColor":"#000","titlePadding":23}}}},
  {"data":{"name":"pts"},"transform":[{"filter":"datum.p == 'LDMA' && (datum.c == 'gw' || datum.c == 'rw')"}],
   "mark":{"type":"point","filled":false,"clip":true,"strokeWidth":2.2,"opacity":1},
   "encoding":{"x":{"field":"k","type":"quantitative","title":null},"y":{"field":"e","type":"quantitative","axis":null},
    "color":{"field":"c","type":"nominal","scale":{"domain":["r","g","b","p","gw","rw"],"range":["#c4146e","#7cc424","#1f62cf","#7a3cc8","#94e04a","#f4a898"]},"legend":null},
    "size":{"field":"w","type":"quantitative","scale":{"domain":[0,1],"range":[0,18]},"legend":null}}},
  {"data":{"name":"pts"},"transform":[{"filter":"datum.p == 'LDMA' && datum.c != 'gw' && datum.c != 'rw'"}],
   "mark":{"type":"point","filled":false,"clip":true,"strokeWidth":1,"opacity":1},
   "encoding":{
    "x":{"field":"k","type":"quantitative","title":null,"scale":{"domain":[0,1.707],"nice":false,"zero":false},
     "axis":{"values":[0,0.5,1,1.707],"labelExpr":"datum.value < 0.1 ? 'Γ' : datum.value < 0.7 ? 'X' : datum.value < 1.2 ? 'M' : 'Γ'","labelFontSize":30,"labelFont":{"condition":{"test":"datum.value < 0.1 || datum.value > 1.5","value":"Liberation Serif"},"value":"Liberation Sans"},"labelColor":"#000","labelPadding":10,"ticks":false,"domain":false,"grid":true,"gridColor":"#555","gridWidth":1,"gridOpacity":1,"labelFlush":false,"labelOverlap":false}},
    "y":{"field":"e","type":"quantitative",
     "axis":{"orient":"left","title":null,"labels":false,"values":[-0.48,-0.46,-0.44,-0.42,-0.38,-0.36,-0.34,-0.32,-0.28,-0.26,-0.24,-0.22,-0.18,-0.16,-0.14,-0.12,-0.08,-0.06,-0.04,-0.02,0.02,0.04,0.06,0.08,0.12,0.14,0.16,0.18,0.22,0.24,0.26,0.28,0.32,0.34,0.36,0.38,0.42,0.44,0.46,0.48],
      "tickSize":4,"tickColor":"#444","domain":false,"grid":false}},
    "color":{"field":"c","type":"nominal","scale":{"domain":["r","g","b","p","gw","rw"],"range":["#c4146e","#7cc424","#1f62cf","#7a3cc8","#94e04a","#f4a898"]},"legend":null},
    "size":{"field":"w","type":"quantitative","scale":{"domain":[0,1],"range":[0,18]},"legend":null}}},
  {"data":{"values":[{"k":1.707,"e":0}]},"mark":{"type":"text","text":"E","align":"left","baseline":"middle","dx":2,"dy":1,"fontSize":14,"font":"Liberation Serif","color":"#000"},
   "encoding":{"x":{"field":"k","type":"quantitative","title":null},"y":{"field":"e","type":"quantitative","axis":null}}},
  {"data":{"values":[{"k":1.707,"e":0}]},"mark":{"type":"text","text":"F","align":"left","baseline":"middle","dx":10,"dy":6,"fontSize":10,"font":"Liberation Serif","color":"#000"},
   "encoding":{"x":{"field":"k","type":"quantitative","title":null},"y":{"field":"e","type":"quantitative","axis":null}}}
 ]}
]
}
